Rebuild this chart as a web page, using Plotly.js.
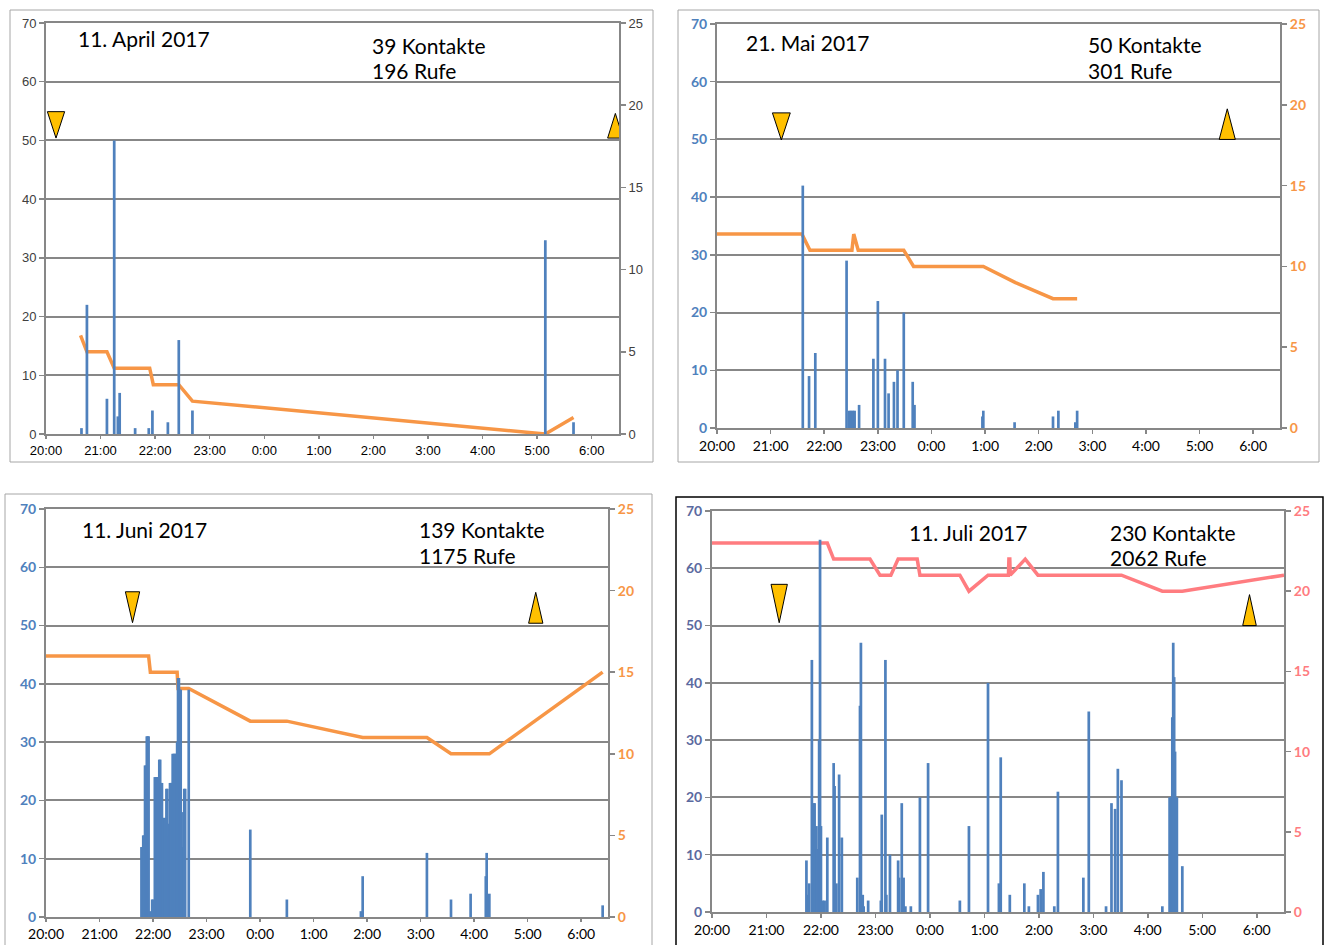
<!DOCTYPE html>
<html>
<head>
<meta charset="utf-8">
<script src="https://cdn.plot.ly/plotly-3.0.1.min.js"></script>
<style>
html,body{margin:0;padding:0;background:#ffffff;}
#chart{width:1327px;height:945px;}
</style>
</head>
<body>
<div id="chart"></div>
<script>
// ---------- tick labels (minutes after 20:00) ----------
const hourTickMinutes = [0, 60, 120, 180, 240, 300, 360, 420, 480, 540, 600];
const hourTickLabels = ['20:00','21:00','22:00','23:00','0:00','1:00','2:00','3:00','4:00','5:00','6:00'];

// ---------- panel texts ----------
const panelDates = ['11. April 2017', '21. Mai 2017', '11. Juni 2017', '11. Juli 2017'];
const panelKontakte = [39, 50, 139, 230];
const panelRufe = [196, 301, 1175, 2062];

// ---------- sunset / sunrise markers (minutes after 20:00) ----------
const sunsetMinutes = [11, 72, 97, 74];
const sunriseMinutes = [626, 571, 549, 592];

// ---------- 11. April 2017 ----------
const aprilBarMin   = [39, 45, 67, 75, 79, 81, 98, 113, 117, 134, 146, 161, 549, 580];
const aprilBarCalls = [1, 22, 6, 50, 3, 7, 1, 1, 4, 2, 16, 4, 33, 2];
const aprilLineMin  = [38, 45, 67, 75, 114, 118, 146, 161, 549, 580];
const aprilLineVal  = [6, 5, 5, 4, 4, 3, 3, 2, 0, 1];

// ---------- 21. Mai 2017 ----------
const maiBarMin   = [96, 103, 110, 145, 148, 150, 152, 154, 159, 175, 180, 188, 192, 198, 202, 209, 219, 221, 297, 298, 333, 376, 382, 401, 403];
const maiBarCalls = [42, 9, 13, 29, 3, 3, 3, 3, 4, 12, 22, 12, 6, 8, 10, 20, 8, 4, 2, 3, 1, 2, 3, 1, 3];
const maiLineMin  = [0, 95, 104, 151, 153, 158, 209, 220, 298, 334, 376, 403];
const maiLineVal  = [12, 12, 11, 11, 12, 11, 11, 10, 10, 9, 8, 8];

// ---------- 11. Juni 2017 ----------
const juniBarMin = [107, 108, 109, 110, 111, 112, 113, 114, 115, 117, 119, 120, 122, 123, 124, 125, 126, 127, 128, 129, 130,
                    131, 132, 133, 134, 135, 136, 137, 138, 139, 140, 141, 142, 143, 144, 145, 146, 147, 148, 149, 150,
                    151, 152, 153, 154, 155, 156, 160, 229, 270, 353, 355, 427, 454, 476, 493, 494, 497, 624];
const juniBarCalls = [12, 12, 14, 14, 26, 26, 31, 31, 31, 1, 3, 3, 24, 24, 24, 24, 24, 27, 27, 23, 23,
                      17, 17, 17, 17, 22, 22, 16, 14, 23, 23, 23, 28, 28, 28, 28, 28, 30, 41, 41, 39,
                      39, 7, 12, 18, 22, 22, 39, 15, 3, 1, 7, 11, 3, 4, 7, 11, 4, 2];
const juniLineMin = [0, 115, 117, 147, 148, 160, 229, 270, 355, 427, 454, 497, 624];
const juniLineVal = [16, 16, 15, 15, 14, 14, 12, 12, 11, 11, 10, 10, 15];

// ---------- 11. Juli 2017 ----------
const juliBarMin = [104, 105, 107, 110, 112, 113, 115, 116, 118, 119, 120, 122, 124, 127, 134, 135, 137, 140, 143,
                    160, 163, 164, 166, 167, 172, 186, 187, 191, 192, 196, 205, 206, 209, 211, 213, 219, 229, 238,
                    273, 283, 304, 316, 318, 328, 344, 349, 359, 362, 365, 377, 381, 409, 415, 434, 440, 444, 447, 451,
                    496, 504, 505, 506, 507, 508, 509, 510, 511, 512, 518];
const juliBarCalls = [9, 3, 5, 44, 19, 19, 15, 11, 30, 65, 15, 2, 2, 13, 26, 22, 5, 24, 13,
                      6, 36, 47, 3, 1, 2, 2, 17, 44, 3, 10, 9, 6, 19, 6, 1, 1, 20, 26,
                      2, 15, 40, 5, 27, 3, 5, 1, 3, 4, 7, 1, 21, 6, 35, 1, 19, 18, 25, 23,
                      1, 20, 20, 20, 34, 47, 41, 28, 20, 20, 8, 23];
const juliLineMin = [0, 127, 134, 174, 185, 197, 205, 226, 229, 273, 283, 304, 326.5, 327, 328, 328.5, 345, 359, 451, 496, 518, 630];
const juliLineVal = [23, 23, 22, 22, 21, 21, 22, 22, 21, 21, 20, 21, 21, 22, 22, 21, 22, 21, 21, 20, 20, 21];

// ---------- assemble ----------
const panels = [
  {barX: aprilBarMin, barY: aprilBarCalls, lineX: aprilLineMin, lineY: aprilLineVal},
  {barX: maiBarMin,   barY: maiBarCalls,   lineX: maiLineMin,   lineY: maiLineVal},
  {barX: juniBarMin,  barY: juniBarCalls,  lineX: juniLineMin,  lineY: juniLineVal},
  {barX: juliBarMin,  barY: juliBarCalls,  lineX: juliLineMin,  lineY: juliLineVal}
];

// style / geometry (pixels of the 1327x945 page)
const W = 1327, H = 945;
const styles = [
  {plot:[46,619,23,434],  leftCol:'#404040', rightCol:'#404040', lineCol:'#F79646', tickFam:'Liberation Sans, Arial', tickSize:13, tickWeight:'normal', xSize:13, xFam:'Liberation Sans, Arial', xLen:3,
   dn:{top:54.9, tip:50.4, hw:9.5}, up:{base:50.4, tip:54.6, hw:8.5},
   date:[76,39], kon:[370,45], rufe:[370,70], box:[10,653,10,462], boxCol:'#a6a6a6', boxW:1},
  {plot:[717,1280,24,428], leftCol:'#4F81BD', rightCol:'#F79646', lineCol:'#F79646', tickFam:'Lato', tickSize:14, tickWeight:'bold', xSize:14, xFam:'Lato', xLen:4,
   dn:{top:54.6, tip:49.9, hw:10}, up:{base:50, tip:55.3, hw:9},
   date:[744,43], kon:[1086,44.5], rufe:[1086,70.5], box:[678,1319,10,462], boxCol:'#a6a6a6', boxW:1},
  {plot:[46,608,509,917], leftCol:'#4F81BD', rightCol:'#F79646', lineCol:'#F79646', tickFam:'Lato', tickSize:14, tickWeight:'bold', xSize:14, xFam:'Lato', xLen:3,
   dn:{top:55.8, tip:50.5, hw:8}, up:{base:50.4, tip:55.7, hw:8},
   date:[80,529], kon:[417,529.5], rufe:[417,555.5], box:[5,652,494,950], boxCol:'#a6a6a6', boxW:1},
  {plot:[712,1284,511,912], leftCol:'#5b6aa0', rightCol:'#FF7C80', lineCol:'#FF7C80', tickFam:'Lato', tickSize:14, tickWeight:'bold', xSize:14, xFam:'Lato', xLen:4,
   dn:{top:57.2, tip:50.5, hw:9}, up:{base:50, tip:55.4, hw:7.5},
   date:[907,532], kon:[1108,532], rufe:[1108,557.5], box:[676,1323,497,950], boxCol:'#000000', boxW:1.5}
];

const GRID = '#878787';
const traces = [];
const layout = {
  width: W, height: H, autosize: false,
  margin: {l:0, r:0, t:0, b:0, pad:0},
  paper_bgcolor: '#ffffff', plot_bgcolor: 'rgba(0,0,0,0)',
  showlegend: false, barmode: 'overlay',
  annotations: [], shapes: []
};

panels.forEach((p, i) => {
  const s = styles[i];
  const xid = i === 0 ? '' : String(i + 1);
  const baseIdx = 2 * i + 1, ovIdx = 2 * i + 2;
  const baseId = baseIdx === 1 ? '' : String(baseIdx);
  const ovId = String(ovIdx);
  const xd = [s.plot[0] / W, s.plot[1] / W];
  const yd = [1 - s.plot[3] / H, 1 - s.plot[2] / H];

  layout['xaxis' + xid] = {
    domain: xd, anchor: 'y' + baseId, range: [0, 630],
    tickmode: 'array', tickvals: hourTickMinutes, ticktext: hourTickLabels,
    ticks: 'outside', ticklen: s.xLen, tickwidth: 1.5, tickcolor: GRID,
    showline: true, linecolor: GRID, linewidth: 2, mirror: true,
    showgrid: false, zeroline: false, fixedrange: true,
    tickfont: {family: s.xFam, size: s.xSize, color: '#000000'}
  };
  layout['yaxis' + baseId] = {
    domain: yd, anchor: 'x' + xid, side: 'right', range: [0, 25],
    tickmode: 'linear', tick0: 0, dtick: 5,
    ticks: 'outside', ticklen: 5, tickwidth: 1.5, tickcolor: GRID,
    showline: true, linecolor: GRID, linewidth: 2,
    showgrid: false, zeroline: false, fixedrange: true,
    tickfont: {family: s.tickFam, size: s.tickSize, color: s.rightCol, weight: s.tickWeight}
  };
  layout['yaxis' + ovId] = {
    overlaying: 'y' + baseId, anchor: 'x' + xid, side: 'left', range: [0, 70],
    tickmode: 'linear', tick0: 0, dtick: 10,
    ticks: 'outside', ticklen: 5, tickwidth: 1.5, tickcolor: GRID,
    showline: true, linecolor: GRID, linewidth: 2,
    showgrid: true, gridcolor: GRID, gridwidth: 2,
    zeroline: false, fixedrange: true,
    tickfont: {family: s.tickFam, size: s.tickSize, color: s.leftCol, weight: s.tickWeight}
  };

  // temperature-like line on the right axis (base subplot, drawn below bars)
  traces.push({
    type: 'scatter', mode: 'lines', x: p.lineX, y: p.lineY,
    xaxis: 'x' + xid, yaxis: 'y' + baseId,
    line: {color: s.lineCol, width: 3.5}, hoverinfo: 'skip'
  });
  // calls per minute bars on the left axis
  traces.push({
    type: 'bar', x: p.barX, y: p.barY, width: 3,
    xaxis: 'x' + xid, yaxis: 'y' + ovId,
    marker: {color: '#4F81BD', line: {width: 0}}, hoverinfo: 'skip'
  });
  // sunset (down) and sunrise (up) triangles
  const ss = sunsetMinutes[i], sr = sunriseMinutes[i];
  traces.push({
    type: 'scatter', mode: 'lines', fill: 'toself', fillcolor: '#FFC000',
    x: [ss - s.dn.hw, ss + s.dn.hw, ss, ss - s.dn.hw],
    y: [s.dn.top, s.dn.top, s.dn.tip, s.dn.top],
    xaxis: 'x' + xid, yaxis: 'y' + ovId,
    line: {color: '#000000', width: 1}, hoverinfo: 'skip'
  });
  traces.push({
    type: 'scatter', mode: 'lines', fill: 'toself', fillcolor: '#FFC000',
    x: [sr - s.up.hw, sr + s.up.hw, sr, sr - s.up.hw],
    y: [s.up.base, s.up.base, s.up.tip, s.up.base],
    xaxis: 'x' + xid, yaxis: 'y' + ovId,
    line: {color: '#000000', width: 1}, hoverinfo: 'skip'
  });

  // texts
  const txtFont = {family: 'Lato', size: 21, color: '#000000'};
  layout.annotations.push({xref: 'paper', yref: 'paper', x: s.date[0] / W, y: 1 - s.date[1] / H,
    xanchor: 'left', yanchor: 'middle', text: panelDates[i], showarrow: false, font: txtFont});
  layout.annotations.push({xref: 'paper', yref: 'paper', x: s.kon[0] / W, y: 1 - s.kon[1] / H,
    xanchor: 'left', yanchor: 'middle', text: panelKontakte[i] + ' Kontakte', showarrow: false, font: txtFont});
  layout.annotations.push({xref: 'paper', yref: 'paper', x: s.rufe[0] / W, y: 1 - s.rufe[1] / H,
    xanchor: 'left', yanchor: 'middle', text: panelRufe[i] + ' Rufe', showarrow: false, font: txtFont});

  // panel frame
  layout.shapes.push({type: 'rect', xref: 'paper', yref: 'paper',
    x0: s.box[0] / W, x1: s.box[1] / W, y0: 1 - s.box[3] / H, y1: 1 - s.box[2] / H,
    line: {color: s.boxCol, width: s.boxW}, fillcolor: 'rgba(0,0,0,0)', layer: 'below'});
});

Plotly.newPlot('chart', traces, layout, {staticPlot: true, displayModeBar: false});
</script>
</body>
</html>
